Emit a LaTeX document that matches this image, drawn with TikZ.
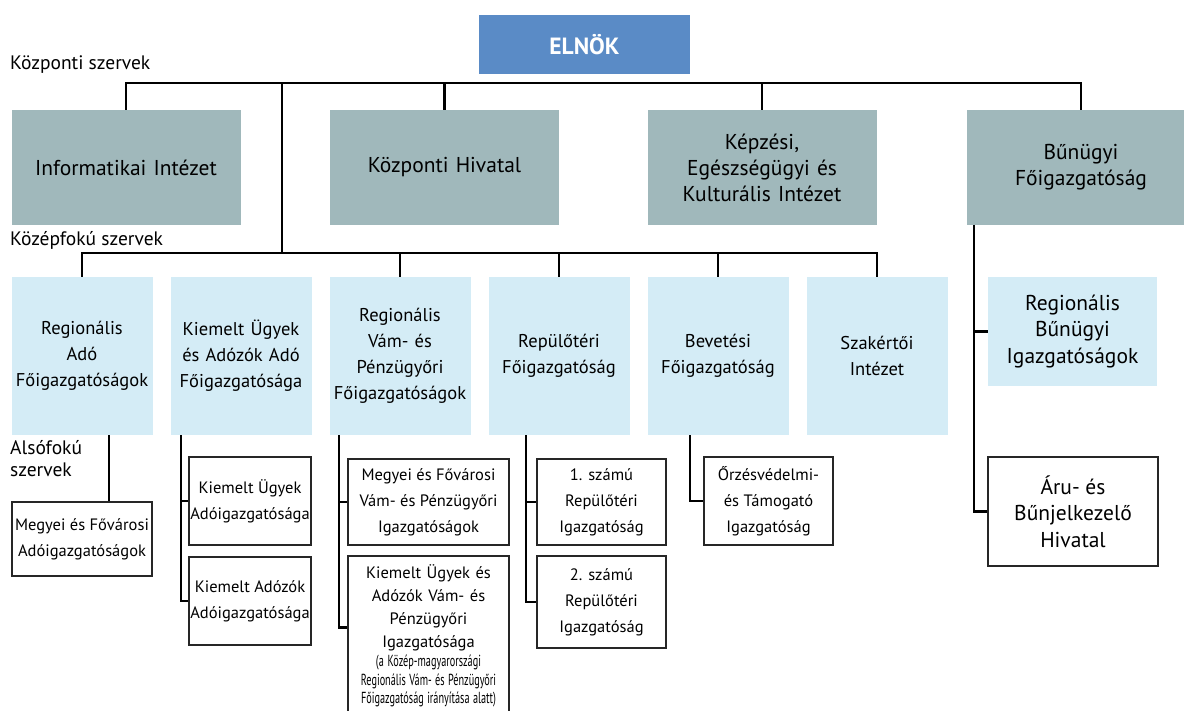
\documentclass[tikz,border=0pt]{standalone}
\usepackage{fontspec}
\setmainfont{PT Sans}
\newfontfamily\narrowfont[FakeStretch=0.64]{PT Sans}
\definecolor{elnokblue}{RGB}{90,139,198}
\definecolor{szervgray}{RGB}{160,184,187}
\definecolor{kozepblue}{RGB}{212,236,246}
\tikzset{
  elnokbox/.style={fill=elnokblue, text=white, font=\bfseries\fontsize{23.5}{27}\selectfont,
    minimum width=211pt, minimum height=59pt, inner sep=0pt},
  kozpont/.style={fill=szervgray, minimum width=229pt, minimum height=115pt, inner sep=0pt,
    text width=225pt, align=center, font=\fontsize{21.5}{26}\selectfont},
  kozep/.style={fill=kozepblue, minimum width=141pt, minimum height=158pt, inner sep=0pt,
    text width=141pt, align=center, font=\fontsize{18.5}{26}\selectfont},
  also/.style={draw=black!85, line width=1.2pt, fill=white, inner sep=0pt,
    align=center, font=\fontsize{16.5}{26}\selectfont},
  szintlabel/.style={anchor=west, inner sep=0pt, font=\fontsize{19.5}{22}\selectfont},
  vonal/.style={line width=2.2pt, black}
}
\begin{document}
\begin{tikzpicture}[x=1pt,y=-1pt]
	\useasboundingbox (0,0) rectangle (1184,711);
	% elnok and kozponti szervek
	\node[elnokbox] (elnok) at (584.5,44.5) {ELNÖK};
	\node[szintlabel] (lblkozp) at (10,65) {Központi szervek};
	\node[kozpont] (info) at (126,167.5) {Informatikai Intézet};
	\node[kozpont] (hivatal) at (444.5,167.5) {Központi Hivatal};
	\node[kozpont] (kepzes) at (762,167.5) {Képzési,\\Egészségügyi és\\Kulturális Intézet\\[-8pt]};
	\node[kozpont] (bunugy) at (1081,167.5) {Bűnügyi\\Főigazgatóság\\[-8pt]};
	\coordinate (topbus) at (584,83);
	\coordinate (midbus) at (282,253);
	\draw[vonal] (info.north) |- (topbus) -| (bunugy.north);
	\draw[vonal] (hivatal.north) -- (hivatal.north |- topbus);
	\draw[vonal] (kepzes.north) -- (kepzes.north |- topbus);
	\draw[vonal] (midbus |- topbus) -- (midbus);
	% kozepfoku szervek
	\node[szintlabel] (lblkozep) at (10,240) {Középfokú szervek};
	\node[kozep] (radofo) at (82,356) {Regionális\\Adó\\Főigazgatóságok};
	\node[kozep] (kiemfo) at (241,356) {Kiemelt Ügyek\\és Adózók Adó\\Főigazgatósága};
	\node[kozep] (vamfo) at (400,356) {Regionális\\Vám- és\\Pénzügyőri\\Főigazgatóságok};
	\node[kozep] (repfo) at (559,356) {Repülőtéri\\Főigazgatóság\\[6pt]};
	\node[kozep] (bevfo) at (718,356) {Bevetési\\Főigazgatóság\\[6pt]};
	\node[kozep] (szakint) at (877,356) {Szakértői\\Intézet\\[6pt]};
	\draw[vonal] (radofo.north) |- (midbus) -| (szakint.north);
	\draw[vonal] (vamfo.north) -- (vamfo.north |- midbus);
	\draw[vonal] (repfo.north) -- (repfo.north |- midbus);
	\draw[vonal] (bevfo.north) -- (bevfo.north |- midbus);
	\node[kozep, minimum width=169pt, text width=169pt, minimum height=109pt,
	      font=\fontsize{21.5}{26.5}\selectfont] (rbunig) at (1072.5,331.5) {Regionális\\Bűnügyi\\Igazgatóságok};
	\node[also, minimum width=170pt, minimum height=109pt,
	      font=\fontsize{21.5}{26.5}\selectfont] (aru) at (1073,511.5) {Áru- és\\Bűnjelkezelő\\Hivatal};
	\coordinate (bunvonal) at (974,225);
	\draw[vonal] (bunvonal) |- (aru.west);
	\draw[vonal] (bunvonal |- rbunig.west) -- (rbunig.west);
	% alsofoku szervek
	\node[szintlabel, anchor=north west, align=left] (lblalso) at (10,440) {Alsófokú\\szervek};
	\node[also, minimum width=140pt, minimum height=74pt] (megyado) at (82,539) {Megyei és Fővárosi\\Adóigazgatóságok};
	\node[also, minimum width=122pt, minimum height=88pt] (kiemugy) at (250,501) {Kiemelt Ügyek\\Adóigazgatósága};
	\node[also, minimum width=122pt, minimum height=88pt] (kiemado) at (250,601) {Kiemelt Adózók\\Adóigazgatósága};
	\node[also, minimum width=161pt, minimum height=86pt] (megyvam) at (428.5,502) {Megyei és Fővárosi\\Vám- és Pénzügyőri\\Igazgatóságok};
	\node[also, minimum width=161pt, text width=161pt, minimum height=160pt, font=\fontsize{16.5}{23}\selectfont] (kiemvam) at (428.5,636)
	     {Kiemelt Ügyek és\\Adózók Vám- és\\Pénzügyőri\\Igazgatósága\par\vspace{1pt}
	      \narrowfont\fontsize{16}{18.5}\selectfont\spaceskip=3pt plus 1pt (a Közép-magyarországi\\Regionális Vám- és Pénzügyőri\\Főigazgatóság irányítása alatt)\par};
	\node[also, minimum width=129pt, minimum height=86pt] (rep1) at (601.5,502) {1. számú\\Repülőtéri\\Igazgatóság};
	\node[also, minimum width=129pt, minimum height=92pt] (rep2) at (601.5,602) {2. számú\\Repülőtéri\\Igazgatóság};
	\node[also, minimum width=129pt, minimum height=88pt] (orzes) at (768.5,501) {Őrzésvédelmi-\\és Támogató\\Igazgatóság};
	\coordinate (radvonal) at (109,435);
	\coordinate (kiemvonal) at (181,435);
	\coordinate (vamvonal) at (339,435);
	\coordinate (repvonal) at (526,435);
	\coordinate (bevvonal) at (690,435);
	\draw[vonal] (radvonal) -- (radvonal |- megyado.north);
	\draw[vonal] (kiemvonal) |- (kiemado.west);
	\draw[vonal] (kiemvonal |- kiemugy.west) -- (kiemugy.west);
	\draw[vonal] (vamvonal) |- (kiemvam.174);
	\draw[vonal] (vamvonal |- megyvam.west) -- (megyvam.west);
	\draw[vonal] (repvonal) |- (rep2.west);
	\draw[vonal] (repvonal |- rep1.west) -- (rep1.west);
	\draw[vonal] (bevvonal) |- (orzes.west);
\end{tikzpicture}
\end{document}
